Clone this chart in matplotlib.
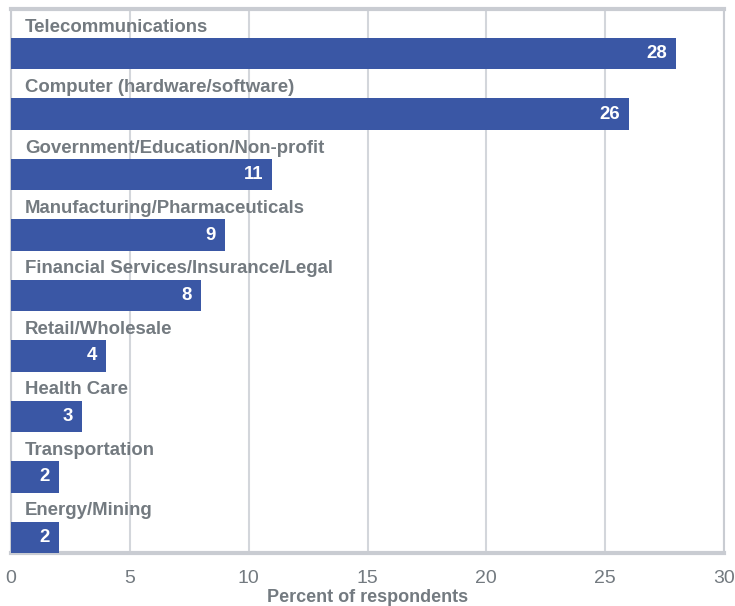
import matplotlib
matplotlib.use("Agg")
import matplotlib.pyplot as plt

categories = [
    "Telecommunications",
    "Computer (hardware/software)",
    "Government/Education/Non-profit",
    "Manufacturing/Pharmaceuticals",
    "Financial Services/Insurance/Legal",
    "Retail/Wholesale",
    "Health Care",
    "Transportation",
    "Energy/Mining",
]
values = [28, 26, 11, 9, 8, 4, 3, 2, 2]
xticks = [0, 5, 10, 15, 20, 25, 30]
xlabel = "Percent of respondents"

bar_color = "#3A57A5"
text_gray = "#737A80"
grid_gray = "#D3D6DB"
frame_gray = "#C9CCD2"

plt.rcParams["font.family"] = ["Liberation Sans", "DejaVu Sans"]

fig = plt.figure(figsize=(7.35, 6.06), dpi=100)
ax = fig.add_axes([11 / 735, 1 - 553 / 606, 713 / 735, 544 / 606])

n = len(categories)
ypos = [i + 0.24 for i in range(n)]
ax.barh(ypos, values, height=0.52, color=bar_color, zorder=3)

for i, (cat, v) in enumerate(zip(categories, values)):
    ax.annotate(cat, xy=(0, i - 0.2), xytext=(14, 0), textcoords="offset pixels",
                ha="left", va="center", fontsize=13.4, fontweight="bold",
                color=text_gray, zorder=4)
    ax.annotate(str(v), xy=(v, ypos[i]), xytext=(-9, 0), textcoords="offset pixels",
                ha="right", va="center", fontsize=13.4, fontweight="bold",
                color="white", zorder=4)

ax.set_xlim(0, 30)
ax.set_ylim(n - 0.5, -0.5)
ax.set_xticks(xticks)
ax.set_xticklabels([str(t) for t in xticks], fontsize=14, color=text_gray)
ax.set_yticks([])
ax.tick_params(axis="x", length=0, pad=12)
ax.grid(axis="x", color=grid_gray, linewidth=1.5, zorder=0)

for side in ["left", "right"]:
    ax.spines[side].set_color(frame_gray)
    ax.spines[side].set_linewidth(1.5)
for side in ["top", "bottom"]:
    ax.spines[side].set_color(frame_gray)
    ax.spines[side].set_linewidth(3)

ax.set_xlabel(xlabel, fontsize=13, fontweight="bold", color=text_gray)
ax.xaxis.set_label_coords(0.5, -0.066)

fig.savefig("out.png", dpi=100)
